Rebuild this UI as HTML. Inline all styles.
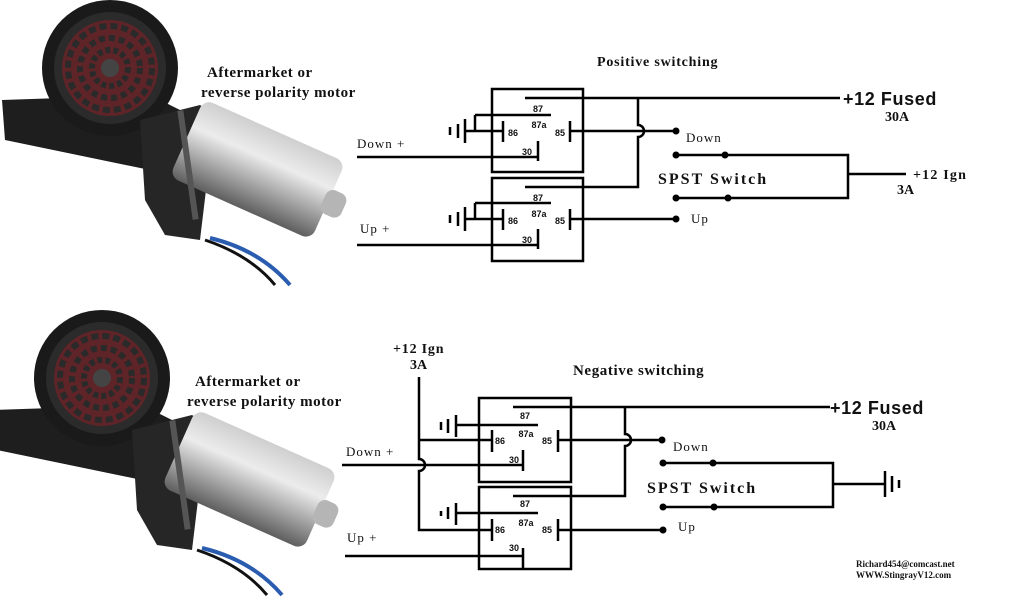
<!DOCTYPE html>
<html><head><meta charset="utf-8"><style>
html,body{margin:0;padding:0;background:#fff;width:1024px;height:600px;overflow:hidden}
svg{display:block}
.s{font-family:"Liberation Serif",serif;font-weight:bold;fill:#111}
.a{font-family:"Liberation Sans",sans-serif;font-weight:bold;fill:#111}
</style></head><body>
<svg width="1024" height="600" viewBox="0 0 1024 600" xmlns="http://www.w3.org/2000/svg">
<defs>
<linearGradient id="cyl" x1="0" y1="0" x2="0" y2="1">
<stop offset="0" stop-color="#cfcfcf"/><stop offset="0.35" stop-color="#ececec"/><stop offset="0.7" stop-color="#a0a0a0"/><stop offset="1" stop-color="#5e5e5e"/></linearGradient>
<g id="motor">
<path d="M210,238 Q260,250 290,285" stroke="#2a5db0" stroke-width="4" fill="none"/>
<path d="M205,240 Q250,255 275,285" stroke="#111" stroke-width="3" fill="none"/>
<polygon points="2,100 150,95 200,120 190,175 150,170 5,140" fill="#1e1e1e"/>
<circle cx="110" cy="68" r="68" fill="#1a1a1a"/>
<circle cx="110" cy="68" r="56" fill="#2b2b2b"/>
<circle cx="110" cy="68" r="48" fill="#5e2428"/>
<circle cx="110" cy="68" r="42" fill="none" stroke="#2a2a2a" stroke-width="6" stroke-dasharray="7 4"/>
<circle cx="110" cy="68" r="30" fill="none" stroke="#2a2a2a" stroke-width="6" stroke-dasharray="6 4"/>
<circle cx="110" cy="68" r="18" fill="none" stroke="#2a2a2a" stroke-width="6" stroke-dasharray="5 3"/>
<circle cx="110" cy="68" r="9" fill="#444"/>
<polygon points="140,120 200,105 215,115 200,240 165,235 145,200" fill="#262626"/>
<g transform="rotate(24 260 170)">
<rect x="180" y="128" width="155" height="85" rx="10" fill="url(#cyl)"/>
<rect x="330" y="158" width="22" height="26" rx="8" fill="#b5b5b5"/>
</g>
<rect x="185" y="110" width="6" height="110" fill="#555" transform="rotate(-8 188 165)"/>
</g>
</defs>
<use href="#motor"/>
<use href="#motor" transform="translate(-8,310)"/>

<g class="s" font-size="15" letter-spacing="0.5">
<text x="207" y="77">Aftermarket  or</text>
<text x="201" y="97">reverse polarity motor</text>
<text x="195" y="386">Aftermarket  or</text>
<text x="187" y="406">reverse polarity motor</text>
</g>
<g class="s">
<text x="597" y="66" font-size="14" letter-spacing="0.8">Positive switching</text>
<text x="573" y="375" font-size="15" letter-spacing="0.6">Negative  switching</text>
<text x="658" y="184" font-size="16" letter-spacing="2">SPST Switch</text>
<text x="647" y="493" font-size="16" letter-spacing="2">SPST Switch</text>
<text x="393" y="353" font-size="14" letter-spacing="0.8">+12 Ign</text>
<text x="410" y="369" font-size="14">3A</text>
<text x="885" y="121" font-size="14">30A</text>
<text x="872" y="430" font-size="14">30A</text>
<text x="913" y="179" font-size="14" letter-spacing="1.2">+12 Ign</text>
<text x="897" y="194" font-size="14">3A</text>
</g>
<g font-family="Liberation Serif,serif" font-size="13" fill="#111" letter-spacing="1">
<text x="357" y="148">Down +</text>
<text x="360" y="233">Up  +</text>
<text x="346" y="456">Down +</text>
<text x="347" y="542">Up  +</text>
<text x="686" y="142">Down</text>
<text x="691" y="223">Up</text>
<text x="673" y="451">Down</text>
<text x="678" y="531">Up</text>
</g>
<text class="a" x="843" y="105" font-size="18" letter-spacing="0.6">+12 Fused</text>
<text class="a" x="830" y="414" font-size="18" letter-spacing="0.6">+12 Fused</text>
<text class="s" x="856" y="567" font-size="9">Richard454@comcast.net</text>
<text class="s" x="856" y="578" font-size="9">WWW.StingrayV12.com</text>

<g stroke="#000" stroke-width="2.5" fill="none">
<rect x="492" y="89" width="91" height="83"/>
<rect x="492" y="178" width="91" height="83"/>
<path d="M525,98 H840"/>
<path d="M638,98 V125 A6,6 0 0 1 638,137 V187 H525"/>
<path d="M475,115 H551 M475,115 V131 M465,131 H503 M503,121 V142 M570,121 V142 M570,131 H676 M538,141 V161 M357,157 H538"/>
<path d="M475,203 H551 M475,203 V219 M465,219 H503 M503,209 V230 M570,209 V230 M570,219 H676 M538,229 V249 M357,245 H538"/>
<path d="M465,119 V143 M458,124 V138 M450,127 V135"/>
<path d="M465,207 V231 M458,212 V226 M450,215 V223"/>
<path d="M676,155 H848 V198 H676 M848,174 H906"/>
<rect x="479" y="398" width="92" height="84"/>
<rect x="479" y="487" width="92" height="82"/>
<path d="M513,407 H830"/>
<path d="M625,407 V434 A6,6 0 0 1 625,446 V496 H513"/>
<path d="M456,425 H538 M420,440 H492 M492,430 V452 M558,430 V452 M558,440 H662 M523,450 V471 M342,465 H523"/>
<path d="M419,377 V459 A6,6 0 0 1 419,471 V530 H492"/>
<path d="M456,513 H538 M492,519 V541 M558,519 V541 M558,530 H662 M523,548 V569 M345,556 H523"/>
<path d="M456,415 V437 M448,419 V433 M441,422 V430"/>
<path d="M456,503 V525 M448,507 V519 M441,511 V516"/>
<path d="M663,463 H833 V507 H663 M833,484 H885 M885,471 V497 M892,476 V492 M899,480 V488"/>
</g>
<g fill="#000">
<circle cx="676" cy="131" r="3.5"/><circle cx="676" cy="155" r="3.5"/><circle cx="725" cy="155" r="3.5"/>
<circle cx="676" cy="198" r="3.5"/><circle cx="728" cy="198" r="3.5"/><circle cx="676" cy="219" r="3.5"/>
<circle cx="662" cy="440" r="3.5"/><circle cx="663" cy="463" r="3.5"/><circle cx="713" cy="463" r="3.5"/>
<circle cx="663" cy="507" r="3.5"/><circle cx="714" cy="507" r="3.5"/><circle cx="663" cy="530" r="3.5"/>
</g>
<g class="a" font-size="9" fill="#333" text-anchor="middle">
<text x="538" y="112">87</text><text x="539" y="128">87a</text><text x="513" y="136">86</text><text x="560" y="136">85</text><text x="527" y="155">30</text>
<text x="538" y="201">87</text><text x="539" y="217">87a</text><text x="513" y="224">86</text><text x="560" y="224">85</text><text x="527" y="243">30</text>
<text x="525" y="419">87</text><text x="526" y="437">87a</text><text x="500" y="444">86</text><text x="547" y="444">85</text><text x="514" y="463">30</text>
<text x="525" y="507">87</text><text x="526" y="526">87a</text><text x="500" y="533">86</text><text x="547" y="533">85</text><text x="514" y="551">30</text>
</g>
</svg>
</body></html>
